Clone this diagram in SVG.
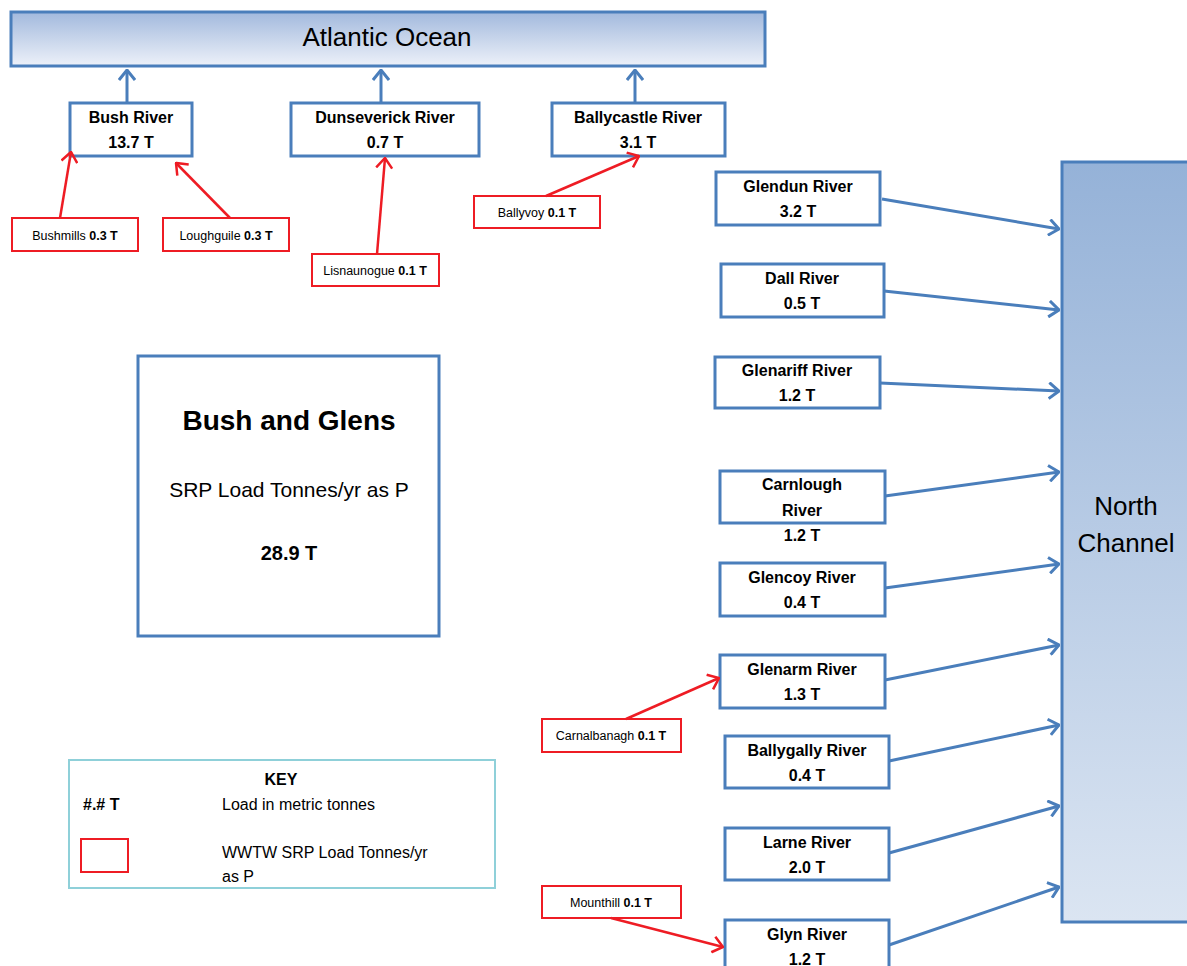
<svg xmlns="http://www.w3.org/2000/svg" width="1187" height="966" viewBox="0 0 1187 966">
<defs>
<linearGradient id="gAtl" x1="0" y1="0" x2="0" y2="1"><stop offset="0" stop-color="#a2b9dd"/><stop offset="1" stop-color="#edf1f9"/></linearGradient>
<linearGradient id="gNC" x1="0" y1="0" x2="0" y2="1"><stop offset="0" stop-color="#95b2d8"/><stop offset="1" stop-color="#dbe5f2"/></linearGradient>
<marker id="ab" viewBox="0 0 12 18" refX="11" refY="9" markerWidth="12" markerHeight="18" markerUnits="userSpaceOnUse" orient="auto"><path d="M1,1 L11,9 L1,17" fill="none" stroke="#4a7ebb" stroke-width="3"/></marker>
<marker id="ar" viewBox="0 0 12 18" refX="11" refY="9" markerWidth="12" markerHeight="18" markerUnits="userSpaceOnUse" orient="auto"><path d="M1,1 L11,9 L1,17" fill="none" stroke="#ee1c24" stroke-width="2.5"/></marker>
</defs>
<style>
text{font-family:"Liberation Sans",Arial,sans-serif;fill:#000}
.bx{fill:#fff;stroke:#4a7ebb;stroke-width:3}
.rb{fill:#fff;stroke:#ee1c24;stroke-width:2}
.rt{font-size:16px;font-weight:bold;text-anchor:middle}
.lt{font-size:12.5px;text-anchor:middle}
.b{font-weight:bold}
.cb{fill:none;stroke:#4a7ebb;stroke-width:3;marker-end:url(#ab)}
.cr{fill:none;stroke:#ee1c24;stroke-width:2.5;marker-end:url(#ar)}
</style>
<rect width="1187" height="966" fill="#fff"/>
<g id="atlantic"><rect x="11" y="12" width="754" height="54" fill="url(#gAtl)" stroke="#4a7ebb" stroke-width="3"/><text x="387" y="46" font-size="26" text-anchor="middle">Atlantic Ocean</text></g>
<g id="north-channel"><rect x="1062" y="162" width="130" height="760" fill="url(#gNC)" stroke="#4a7ebb" stroke-width="3"/><text x="1126" y="515" font-size="26" text-anchor="middle">North</text><text x="1126" y="552" font-size="26" text-anchor="middle">Channel</text></g>
<g id="bush"><rect class="bx" x="70" y="103" width="122" height="53"/><text class="rt" x="131" y="123">Bush River</text><text class="rt" x="131" y="148">13.7 T</text></g>
<g id="dunseverick"><rect class="bx" x="291" y="103" width="188" height="53"/><text class="rt" x="385" y="123">Dunseverick River</text><text class="rt" x="385" y="148">0.7 T</text></g>
<g id="ballycastle"><rect class="bx" x="552" y="103" width="173" height="53"/><text class="rt" x="638" y="123">Ballycastle River</text><text class="rt" x="638" y="148">3.1 T</text></g>
<g id="bushmills"><rect class="rb" x="12" y="218" width="126" height="33"/><text class="lt" x="75" y="240">Bushmills  <tspan class="b">0.3 T</tspan></text></g>
<g id="loughguile"><rect class="rb" x="163" y="218" width="126" height="33"/><text class="lt" x="226" y="240">Loughguile  <tspan class="b">0.3 T</tspan></text></g>
<g id="lisnaunogue"><rect class="rb" x="312" y="254" width="127" height="32"/><text class="lt" x="375" y="275">Lisnaunogue <tspan class="b">0.1 T</tspan></text></g>
<g id="ballyvoy"><rect class="rb" x="474" y="196" width="126" height="32"/><text class="lt" x="537" y="217">Ballyvoy <tspan class="b">0.1 T</tspan></text></g>
<g id="glendun"><rect class="bx" x="716" y="172" width="164" height="53"/><text class="rt" x="798" y="192">Glendun River</text><text class="rt" x="798" y="217">3.2 T</text></g>
<g id="dall"><rect class="bx" x="721" y="264" width="163" height="53"/><text class="rt" x="802" y="284">Dall River</text><text class="rt" x="802" y="309">0.5 T</text></g>
<g id="glenariff"><rect class="bx" x="715" y="357" width="165" height="51"/><text class="rt" x="797" y="376">Glenariff River</text><text class="rt" x="797" y="401">1.2 T</text></g>
<g id="carnlough"><rect class="bx" x="720" y="471" width="165" height="52"/><text class="rt" x="802" y="490">Carnlough</text><text class="rt" x="802" y="516">River</text><text class="rt" x="802" y="541">1.2 T</text></g>
<g id="glencoy"><rect class="bx" x="720" y="563" width="165" height="53"/><text class="rt" x="802" y="583">Glencoy River</text><text class="rt" x="802" y="608">0.4 T</text></g>
<g id="glenarm"><rect class="bx" x="720" y="655" width="165" height="53"/><text class="rt" x="802" y="675">Glenarm River</text><text class="rt" x="802" y="700">1.3 T</text></g>
<g id="ballygally"><rect class="bx" x="725" y="736" width="164" height="52"/><text class="rt" x="807" y="756">Ballygally River</text><text class="rt" x="807" y="781">0.4 T</text></g>
<g id="larne"><rect class="bx" x="725" y="828" width="164" height="52"/><text class="rt" x="807" y="848">Larne River</text><text class="rt" x="807" y="873">2.0 T</text></g>
<g id="glyn"><rect class="bx" x="725" y="920" width="164" height="60"/><text class="rt" x="807" y="940">Glyn River</text><text class="rt" x="807" y="965">1.2 T</text></g>
<g id="carnalbanagh"><rect class="rb" x="542" y="719" width="139" height="33"/><text class="lt" x="611" y="740">Carnalbanagh <tspan class="b">0.1 T</tspan></text></g>
<g id="mounthill"><rect class="rb" x="542" y="886" width="139" height="32"/><text class="lt" x="611" y="907">Mounthill  <tspan class="b">0.1 T</tspan></text></g>
<g id="summary"><rect x="138" y="356" width="301" height="280" fill="#fff" stroke="#4a7ebb" stroke-width="3"/><text x="289" y="430" font-size="28" font-weight="bold" text-anchor="middle">Bush and Glens</text><text x="289" y="497" font-size="21" text-anchor="middle">SRP Load Tonnes/yr  as P</text><text x="289" y="560" font-size="20" font-weight="bold" text-anchor="middle">28.9 T</text></g>
<g id="key"><rect x="69" y="760" width="426" height="128" fill="#fff" stroke="#8fd0d9" stroke-width="2"/><text x="281" y="785" font-size="16" font-weight="bold" text-anchor="middle">KEY</text><text x="83" y="810" font-size="16" font-weight="bold">#.# T</text><text x="222" y="810" font-size="16">Load in metric tonnes</text><rect x="81" y="839" width="47" height="33" fill="#fff" stroke="#ee1c24" stroke-width="2"/><text x="222" y="858" font-size="16">WWTW SRP Load Tonnes/yr</text><text x="222" y="882" font-size="16">as P</text></g>
<g id="connectors">
<line class="cb" x1="127" y1="102" x2="127" y2="70"/>
<line class="cb" x1="381" y1="102" x2="381" y2="70"/>
<line class="cb" x1="635" y1="102" x2="635" y2="70"/>
<line class="cr" x1="60" y1="218" x2="71" y2="152"/>
<line class="cr" x1="230" y1="218" x2="176" y2="163"/>
<line class="cr" x1="377" y1="254" x2="385" y2="158"/>
<line class="cr" x1="546" y1="196" x2="639" y2="156"/>
<line class="cr" x1="626" y1="719" x2="719" y2="678"/>
<line class="cr" x1="611" y1="918" x2="723" y2="947"/>
<line class="cb" x1="882" y1="199" x2="1059" y2="229"/>
<line class="cb" x1="884" y1="291" x2="1059" y2="310"/>
<line class="cb" x1="880" y1="383" x2="1059" y2="391"/>
<line class="cb" x1="885" y1="496" x2="1059" y2="472"/>
<line class="cb" x1="885" y1="588" x2="1059" y2="564"/>
<line class="cb" x1="885" y1="680" x2="1059" y2="645"/>
<line class="cb" x1="889" y1="761" x2="1059" y2="725"/>
<line class="cb" x1="889" y1="853" x2="1059" y2="806"/>
<line class="cb" x1="889" y1="945" x2="1059" y2="887"/>
</g>
</svg>
